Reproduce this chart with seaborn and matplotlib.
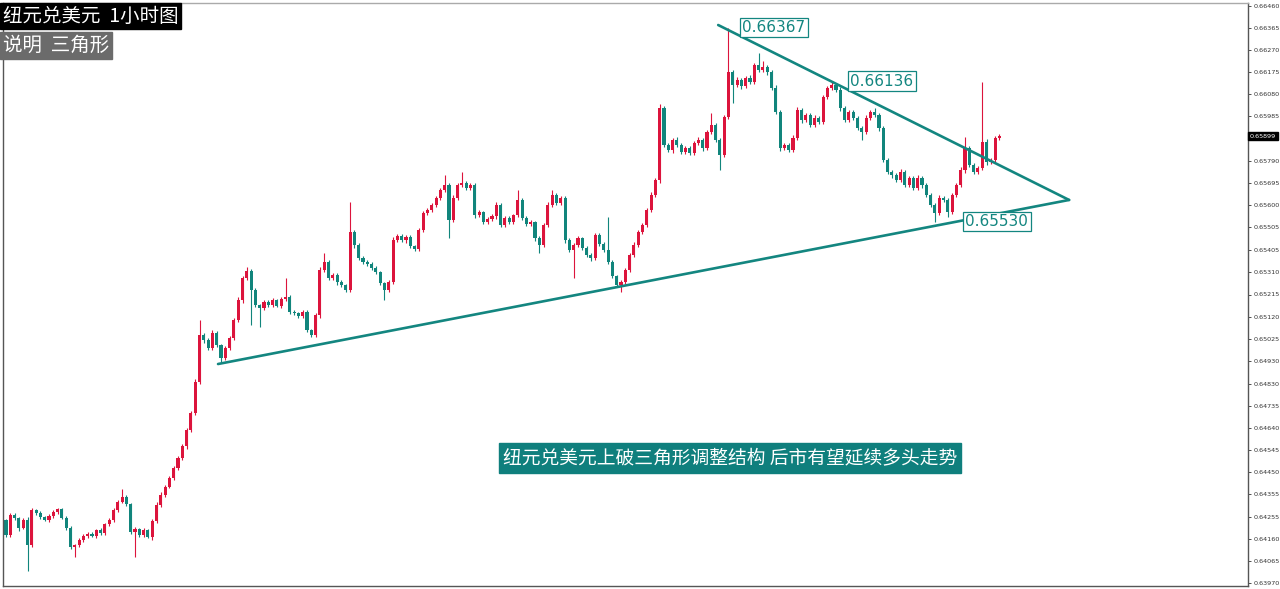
import numpy as np
import pandas as pd
import matplotlib
matplotlib.use('Agg')
import matplotlib.pyplot as plt
import matplotlib.transforms as mtransforms
import seaborn as sns

# NZD/USD 1h candles, prices in 1e-5 units (pips*10)
first_open = 64240
closes = [
    64177, 64264, 64251, 64208, 64242, 64134, 64285, 64272, 64255, 64242,
    64259, 64276, 64289, 64251, 64208, 64126, 64134, 64156, 64173, 64182,
    64173, 64199, 64186, 64225, 64242, 64285, 64320, 64341, 64311, 64190,
    64203, 64177, 64199, 64169, 64238, 64307, 64350, 64385, 64423, 64467,
    64510, 64561, 64630, 64704, 64838, 65040, 65019, 64984, 65049, 64997,
    64941, 64984, 65027, 65105, 65191, 65286, 65316, 65235, 65170, 65157,
    65183, 65170, 65191, 65166, 65196, 65204, 65140, 65135, 65122, 65140,
    65062, 65040, 65127, 65321, 65355, 65286, 65299, 65269, 65256, 65235,
    65485, 65429, 65373, 65355, 65347, 65329, 65312, 65265, 65235, 65269,
    65450, 65468, 65450, 65463, 65424, 65411, 65493, 65567, 65580, 65601,
    65632, 65666, 65688, 65537, 65632, 65688, 65696, 65675, 65688, 65558,
    65571, 65528, 65541, 65554, 65601, 65515, 65545, 65528, 65558, 65623,
    65545, 65519, 65528, 65459, 65429, 65515, 65601, 65645, 65610, 65632,
    65450, 65407, 65429, 65459, 65416, 65385, 65373, 65472, 65433, 65407,
    65355, 65295, 65256, 65269, 65321, 65385, 65429, 65485, 65515, 65580,
    65645, 65709, 66020, 65860, 65839, 65882, 65860, 65830, 65847, 65826,
    65869, 65882, 65847, 65916, 65947, 65882, 65817, 65981, 66175, 66119,
    66141, 66115, 66149, 66132, 66205, 66184, 66197, 66175, 66106, 66003,
    65847, 65860, 65839, 65890, 66011, 65968, 65990, 65947, 65977, 65960,
    66067, 66106, 66119, 66098, 66020, 65968, 66003, 65977, 65934, 65916,
    65977, 66003, 65990, 65934, 65796, 65744, 65731, 65709, 65744, 65688,
    65718, 65675, 65718, 65688, 65645, 65601, 65567, 65632, 65623, 65571,
    65645, 65688, 65752, 65847, 65774, 65744, 65761, 65873, 65787, 65796,
    65890, 65899,
]
wick_up = [
    8, 6, 10, 5, 7, 12, 9, 6, 8, 5,
    7, 9, 6, 5, 8, 6, 4, 7, 9, 6,
    8, 5, 7, 6, 9, 10, 8, 35, 7, 6,
    8, 5, 9, 6, 8, 12, 14, 7, 9, 6,
    8, 10, 7, 9, 12, 65, 10, 8, 12, 7,
    6, 9, 8, 10, 12, 9, 18, 10, 8, 6,
    9, 7, 10, 6, 8, 82, 7, 9, 6, 8,
    7, 5, 9, 12, 39, 10, 8, 7, 9, 6,
    129, 10, 8, 6, 9, 7, 8, 6, 5, 9,
    12, 8, 10, 7, 9, 6, 8, 10, 9, 7,
    8, 10, 43, 9, 12, 10, 48, 8, 10, 7,
    9, 6, 8, 10, 12, 7, 9, 8, 6, 43,
    10, 7, 8, 6, 9, 10, 12, 20, 9, 8,
    10, 7, 9, 8, 6, 9, 7, 10, 8, 9,
    143, 8, 6, 9, 10, 8, 12, 9, 10, 8,
    12, 10, 15, 9, 8, 10, 12, 9, 8, 10,
    9, 12, 8, 10, 51, 9, 8, 10, 192, 9,
    12, 10, 8, 15, 10, 52, 25, 9, 10, 12,
    9, 10, 8, 12, 15, 9, 10, 8, 12, 9,
    10, 8, 17, 9, 12, 10, 8, 9, 10, 8,
    12, 9, 15, 10, 8, 9, 10, 8, 12, 9,
    10, 8, 12, 9, 8, 10, 9, 12, 10, 9,
    8, 10, 12, 48, 9, 10, 8, 259, 12, 10,
    9, 8,
]
wick_dn = [
    10, 7, 9, 12, 6, 114, 8, 7, 9, 6,
    8, 7, 9, 6, 10, 8, 44, 9, 7, 10,
    6, 9, 8, 10, 7, 9, 8, 6, 10, 9,
    108, 8, 10, 7, 12, 9, 8, 10, 7, 9,
    10, 8, 12, 9, 10, 8, 12, 10, 9, 8,
    17, 10, 9, 8, 10, 12, 9, 152, 10, 82,
    8, 10, 9, 7, 8, 10, 9, 8, 10, 7,
    10, 8, 9, 12, 8, 10, 9, 12, 8, 10,
    10, 12, 9, 8, 10, 7, 9, 10, 44, 8,
    10, 9, 8, 12, 10, 9, 8, 10, 9, 8,
    10, 8, 9, 78, 10, 9, 8, 10, 9, 12,
    10, 9, 8, 10, 12, 9, 10, 8, 9, 10,
    9, 10, 8, 12, 35, 10, 9, 8, 10, 9,
    12, 10, 121, 9, 10, 8, 12, 9, 10, 8,
    10, 9, 8, 30, 10, 9, 8, 10, 9, 8,
    9, 10, 12, 10, 9, 12, 10, 9, 8, 10,
    10, 9, 12, 8, 10, 9, 65, 10, 9, 78,
    9, 12, 10, 8, 9, 10, 8, 12, 9, 10,
    12, 10, 9, 8, 10, 12, 9, 10, 8, 9,
    9, 8, 10, 9, 12, 10, 9, 8, 10, 34,
    10, 9, 8, 12, 10, 9, 12, 10, 9, 8,
    9, 10, 8, 12, 10, 9, 37, 10, 9, 21,
    10, 9, 8, 12, 10, 9, 8, 10, 12, 9,
    10, 9,
]

# triangle lines: (bar index, price)
lower_line_x = [49.3, 247.2]
lower_line_y = [0.64915, 0.65623]
upper_line_x = [165.6, 247.2]
upper_line_y = [0.66378, 0.65623]

# price labels: (bar index of box left, price)
label_x = [171.2, 196.3, 223.1]
label_y = [0.66367, 0.66136, 0.65530]

ytick_vals = [0.63970, 0.64065, 0.64160, 0.64255, 0.64355, 0.64450, 0.64545,
              0.64640, 0.64735, 0.64830, 0.64930, 0.65025, 0.65120, 0.65215,
              0.65310, 0.65405, 0.65505, 0.65600, 0.65695, 0.65790, 0.65985,
              0.66080, 0.66175, 0.66270, 0.66365, 0.66460]
last_price = 0.65899

BULL = '#DC143C'
BEAR = '#11857C'
LINE = '#138680'

sns.set_theme(style='white')
plt.rcParams['font.family'] = ['Noto Sans CJK SC', 'DejaVu Sans']

df = pd.DataFrame({'close': closes, 'up': wick_up, 'dn': wick_dn})
df['open'] = [first_open] + closes[:-1]
df = df.astype(float)
df[['open', 'close', 'up', 'dn']] = df[['open', 'close', 'up', 'dn']] / 1e5
df['high'] = df[['open', 'close']].max(axis=1) + df['up']
df['low'] = df[['open', 'close']].min(axis=1) - df['dn']
df['bull'] = df['close'] >= df['open']
x = np.arange(len(df))
colors = np.where(df['bull'], BULL, BEAR)

fig = plt.figure(figsize=(12.8, 5.89), dpi=100)
ax = fig.add_axes([3 / 1280, 3 / 589, 1245 / 1280, 583 / 589])

ax.vlines(x, df['low'], df['high'], colors=colors, lw=0.8)
body = np.maximum((df['close'] - df['open']).abs(), 0.000025)
ax.bar(x, body, bottom=df[['open', 'close']].min(axis=1), width=0.72,
       color=colors, linewidth=0)

sns.lineplot(x=lower_line_x, y=lower_line_y, ax=ax, color=LINE, lw=1.9)
sns.lineplot(x=upper_line_x, y=upper_line_y, ax=ax, color=LINE, lw=1.9)

for lx, ly in zip(label_x, label_y):
    ax.text(lx, ly, f'{ly:.5f}', color=LINE, fontsize=11, ha='left', va='center',
            family='DejaVu Sans',
            bbox=dict(boxstyle='square,pad=0.15', fc='white', ec=LINE, lw=0.9))

ax.set_xlim(-0.7, 288.8)
ax.set_ylim(0.63957, 0.66473)

ax.yaxis.tick_right()
ax.set_yticks(ytick_vals)
ax.set_yticklabels([f'{v:.5f}' for v in ytick_vals], fontsize=4.6, color='#333333',
                   family='DejaVu Sans')
ax.tick_params(axis='y', direction='out', length=2.5, width=0.6, pad=1.5, colors='#333333')
ax.set_xticks(np.arange(-0.7, 212, 8.14))
ax.set_xticklabels([])
ax.tick_params(axis='x', direction='out', length=3, width=0.6, colors='#555555')
for side in ['left', 'right', 'bottom']:
    ax.spines[side].set_color('#555555')
    ax.spines[side].set_linewidth(1.0)
ax.spines['top'].set_color('#aaaaaa')
ax.spines['top'].set_linewidth(1.0)

trans = mtransforms.blended_transform_factory(ax.transAxes, ax.transData)
ax.text(1.0015, last_price, f'{last_price:.5f}', transform=trans, fontsize=4.6,
        color='white', va='center', ha='left', family='DejaVu Sans',
        bbox=dict(boxstyle='square,pad=0.25', fc='black', ec='black'))

fig.text(3 / 1280, 1 - 16 / 589, '纽元兑美元  1小时图', color='white', fontsize=14,
         ha='left', va='center',
         bbox=dict(boxstyle='square,pad=0.14', fc='black', ec='black'))
fig.text(3 / 1280, 1 - 45.5 / 589, '说明  三角形', color='white', fontsize=14,
         ha='left', va='center',
         bbox=dict(boxstyle='square,pad=0.14', fc='#6b6b6b', ec='#6b6b6b'))
fig.text(730 / 1280, 1 - 458 / 589, '纽元兑美元上破三角形调整结构 后市有望延续多头走势',
         color='white', fontsize=13.5, ha='center', va='center',
         bbox=dict(boxstyle='square,pad=0.22', fc='#0F7F7D', ec='#0F7F7D'))

fig.savefig('out.png', dpi=100)
